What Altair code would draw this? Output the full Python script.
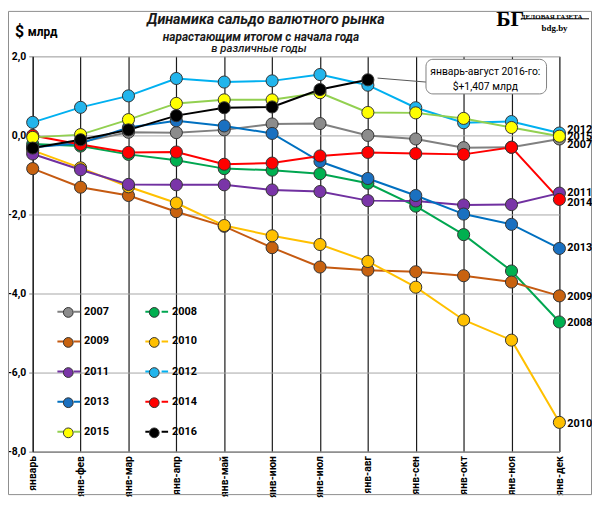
import altair as alt
import pandas as pd

months = ["январь", "янв-фев", "янв-мар", "янв-апр", "янв-май", "янв-июн",
          "янв-июл", "янв-авг", "янв-сен", "янв-окт", "янв-ноя", "янв-дек"]
years = ["2007", "2008", "2009", "2010", "2011", "2012", "2013", "2014", "2015", "2016"]

v2007 = [-0.30, -0.17, 0.08, 0.07, 0.14, 0.29, 0.30, 0.00, -0.09, -0.31, -0.30, -0.09]
v2008 = [-0.22, -0.27, -0.48, -0.63, -0.84, -0.88, -0.97, -1.21, -1.79, -2.51, -3.43, -4.72]
v2009 = [-0.84, -1.31, -1.52, -1.93, -2.30, -2.84, -3.33, -3.41, -3.45, -3.55, -3.71, -4.06]
v2010 = [-0.38, -0.82, -1.30, -1.71, -2.28, -2.54, -2.76, -3.19, -3.84, -4.67, -5.18, -7.26]
v2011 = [-0.47, -0.87, -1.24, -1.25, -1.25, -1.38, -1.42, -1.65, -1.66, -1.76, -1.75, -1.46]
v2012 = [0.33, 0.71, 1.00, 1.44, 1.35, 1.38, 1.54, 1.27, 0.70, 0.32, 0.35, 0.06]
v2013 = [-0.30, -0.20, 0.20, 0.37, 0.24, 0.05, -0.66, -1.09, -1.52, -1.99, -2.25, -2.86]
v2014 = [0.00, -0.23, -0.43, -0.42, -0.73, -0.70, -0.52, -0.43, -0.46, -0.48, -0.30, -1.62]
v2015 = [-0.05, 0.02, 0.40, 0.81, 0.90, 0.90, 1.08, 0.58, 0.57, 0.43, 0.20, -0.02]
v2016 = [-0.32, -0.11, 0.14, 0.50, 0.70, 0.72, 1.16, 1.407]

series = [v2007, v2008, v2009, v2010, v2011, v2012, v2013, v2014, v2015, v2016]

title_text = "Динамика сальдо валютного рынка"
subtitle_lines = ["нарастающим  итогом с начала года", "в различные годы"]
unit_text = ["$", "млрд"]
callout_lines = ["январь-август   2016-го:", "$+1,407 млрд"]
logo_text = ["БГ", "ДЕЛОВАЯ ГАЗЕТА", "bdg.by"]

# styles
line_colors = ["#808080", "#00a650", "#c55a11", "#ffc000", "#7030a0",
               "#00b0f0", "#0070c0", "#ff0000", "#92d050", "#000000"]
marker_colors = ["#8c8c8c", "#00b050", "#c8620f", "#ffc000", "#7a35a8",
                 "#22b5ec", "#1a70c0", "#ff0000", "#ffff00", "#000000"]
label_nudge = {"2012": 0.08, "2015": -0.03, "2007": -0.15, "2014": -0.10,
               "2009": -0.03, "2008": -0.03, "2010": -0.03}

rows = []
for yr, vals in zip(years, series):
    for i, (m, v) in enumerate(zip(months, vals)):
        rows.append({"year": yr, "month": m, "idx": i, "value": v})
df = pd.DataFrame(rows)

end_rows = []
for yr, vals in zip(years, series):
    if len(vals) == len(months):
        end_rows.append({"year": yr, "month": months[-1],
                         "pos": vals[-1] + label_nudge.get(yr, 0.0)})
end_df = pd.DataFrame(end_rows)

W, H = 533, 400
FONT = "Roboto"

x_enc = alt.X("month:N", sort=months, scale=alt.Scale(type="point", padding=0),
              axis=alt.Axis(title=None, labelAngle=270, labelFont=FONT, labelFontSize=10.5,
                            labelFontWeight="bold", labelColor="#000", labelPadding=4,
                            ticks=False, grid=True, gridColor="#1a1a1a", gridWidth=1.2,
                            domainColor="#7f7f7f", domainWidth=1.2))
y_enc = alt.Y("value:Q", scale=alt.Scale(domain=[-8, 2], nice=False, zero=False),
              axis=alt.Axis(title=None, values=list(range(-8, 3)), labelFont=FONT,
                            labelFontSize=10.5, labelFontWeight="bold", labelColor="#000",
                            labelExpr="(datum.value < 0 ? '-' : '') + replace(format(abs(datum.value), '.1f'), '.', ',')",
                            labelOverlap=False, tickSize=4, tickColor="#7f7f7f", labelPadding=3,
                            gridColor="#a6a6a6", gridWidth=1, domainColor="#1a1a1a"))

# two overlaid legends: coloured line segments + dark-outlined dots
sym_bounds = "M-1,-0.5M1,0.5"
line_sym = sym_bounds + "M-1,0L-0.43,0M0.43,0L1,0"
dot_sym = sym_bounds + "M-0.43,0A0.43,0.43,0,1,1,0.43,0A0.43,0.43,0,1,1,-0.43,0Z"
legend_common = dict(title=None, orient="none", legendX=24, columns=2,
                     direction="horizontal", symbolSize=529, labelFont=FONT,
                     labelFontSize=11, labelFontWeight="bold",
                     labelOffset=3, columnPadding=32, padding=0, symbolOpacity=1)

base = alt.Chart(df)
lines = base.mark_line(strokeWidth=2).encode(
    x=x_enc, y=y_enc,
    color=alt.Color("year:N", scale=alt.Scale(domain=years, range=line_colors),
                    legend=alt.Legend(symbolType=line_sym, symbolStrokeWidth=2,
                                      labelColor="#000", legendY=245.5, rowPadding=7.5,
                                      **legend_common)),
    order=alt.Order("idx:Q"),
)

points = base.mark_circle(size=150, opacity=1, stroke="#333333", strokeWidth=1).encode(
    x=alt.X("month:N", sort=months), y="value:Q",
    fill=alt.Fill("year:N", scale=alt.Scale(domain=years, range=marker_colors),
                  legend=alt.Legend(symbolType=dot_sym, symbolStrokeColor="#333333",
                                    symbolStrokeWidth=1, labelColor="#000", labelOpacity=0,
                                    legendY=247, rowPadding=10.5, **legend_common)),
)

end_labels = alt.Chart(end_df).mark_text(align="left", baseline="middle", dx=8,
                                         font=FONT, fontSize=11, fontWeight="bold",
                                         color="#000").encode(
    x=alt.X("month:N", sort=months), y=alt.Y("pos:Q"), text="year:N")

one = pd.DataFrame({"k": [0]})
single = alt.Chart(one)

border = single.mark_rect(fill="transparent", stroke="#8c8c8c", strokeWidth=1).encode(
    x=alt.value(-24.5), x2=alt.value(565.5), y=alt.value(-45.5), y2=alt.value(443.5))

connector = single.mark_rule(color="#555555", strokeWidth=1).encode(
    x=alt.value(349), y=alt.value(22), x2=alt.value(398), y2=alt.value(26))
box = single.mark_rect(fill="white", stroke="#7f7f7f", strokeWidth=1, cornerRadius=7).encode(
    x=alt.value(398), x2=alt.value(520), y=alt.value(3), y2=alt.value(38))
call1 = single.mark_text(font=FONT, fontSize=10.5, color="#000", align="center").encode(
    x=alt.value(458), y=alt.value(16), text=alt.value(callout_lines[0]))
call2 = single.mark_text(font=FONT, fontSize=10.5, color="#000", align="center").encode(
    x=alt.value(458), y=alt.value(31), text=alt.value(callout_lines[1]))

t_main = single.mark_text(font=FONT, fontSize=14.5, fontWeight="bold", fontStyle="italic",
                          color="#1a1a1a", align="center").encode(
    x=alt.value(236), y=alt.value(-37), text=alt.value(title_text))
t_sub1 = single.mark_text(font=FONT, fontSize=12, fontWeight="bold", fontStyle="italic",
                          color="#1a1a1a", align="center").encode(
    x=alt.value(231), y=alt.value(-20), text=alt.value(subtitle_lines[0]))
t_sub2 = single.mark_text(font=FONT, fontSize=11.5, fontStyle="italic", fontWeight=500,
                          color="#1a1a1a", align="center").encode(
    x=alt.value(229), y=alt.value(-7), text=alt.value(subtitle_lines[1]))
u1 = single.mark_text(font=FONT, fontSize=16, fontWeight="bold", color="#000", align="left").encode(
    x=alt.value(-18), y=alt.value(-25), text=alt.value(unit_text[0]))
u2 = single.mark_text(font=FONT, fontSize=12, fontWeight="bold", color="#000", align="left").encode(
    x=alt.value(-5), y=alt.value(-25), text=alt.value(unit_text[1]))

logo1 = single.mark_text(font="Liberation Serif", fontSize=22, fontWeight="bold", color="#000",
                         align="left").encode(x=alt.value(469), y=alt.value(-38), text=alt.value(logo_text[0]))
logo2 = single.mark_text(font="Liberation Serif", fontSize=7, fontWeight="bold", color="#000",
                         align="left").encode(x=alt.value(494), y=alt.value(-40), text=alt.value(logo_text[1]))
logo_ul = single.mark_rule(color="#000", strokeWidth=1).encode(
    x=alt.value(494), x2=alt.value(563), y=alt.value(-38))
logo3 = single.mark_text(font="Liberation Serif", fontSize=9, fontWeight="bold", color="#000",
                         align="left").encode(x=alt.value(515), y=alt.value(-29), text=alt.value(logo_text[2]))

chart = alt.layer(
    border, lines, points, end_labels, connector, box, call1, call2,
    t_main, t_sub1, t_sub2, u1, u2, logo1, logo2, logo_ul, logo3,
).resolve_legend(color="independent", fill="independent").properties(
    width=W, height=H,
    autosize=alt.AutoSizeParams(type="none"),
    padding={"left": 25, "top": 46, "right": 33, "bottom": 44},
).configure_view(stroke="transparent").configure(background="white")

chart.save("out.html", embed_options={"renderer": "svg", "actions": False})
